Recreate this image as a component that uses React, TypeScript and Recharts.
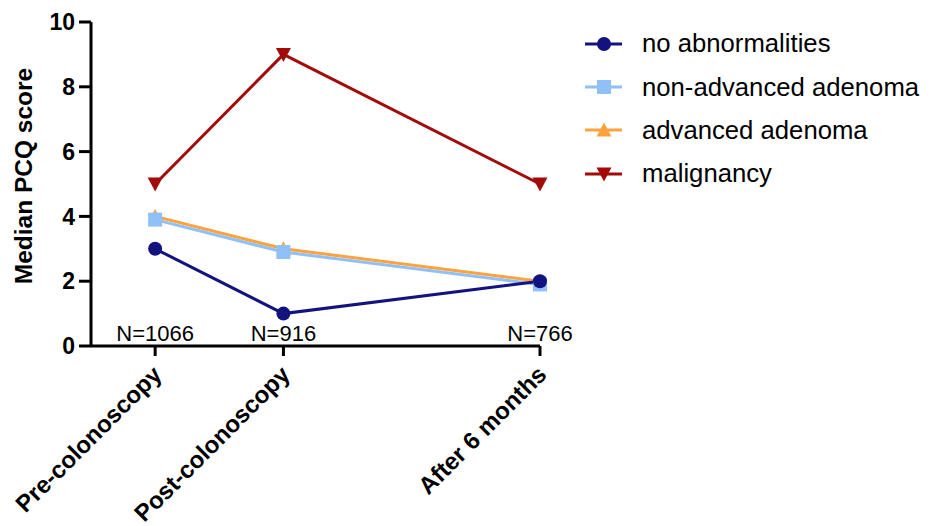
import { LineChart, Line, XAxis, YAxis, ReferenceDot } from 'recharts';

const timePoints = [0, 1, 3];
const timeLabels = ['Pre-colonoscopy', 'Post-colonoscopy', 'After 6 months'];
const nLabels = ['N=1066', 'N=916', 'N=766'];

const noAbnormalities = [3, 1, 2];
const nonAdvancedAdenoma = [3.9, 2.9, 1.9];
const advancedAdenoma = [4, 3, 2];
const malignancy = [5, 9, 5];

const yTicks = [0, 2, 4, 6, 8, 10];

const data = timePoints.map((t, i) => ({
  t,
  none: noAbnormalities[i],
  nonAdv: nonAdvancedAdenoma[i],
  adv: advancedAdenoma[i],
  malig: malignancy[i],
}));

const FONT = '"Liberation Sans", Arial, Helvetica, sans-serif';

const series = [
  { key: 'none', name: 'no abnormalities', color: '#12137f', shape: 'circle' },
  { key: 'nonAdv', name: 'non-advanced adenoma', color: '#90c0f8', shape: 'square' },
  { key: 'adv', name: 'advanced adenoma', color: '#fca23e', shape: 'up' },
  { key: 'malig', name: 'malignancy', color: '#a30b0b', shape: 'down' },
];

const Marker = ({ shape, color, cx, cy }: any) => {
  if (cx == null || cy == null) return null;
  if (shape === 'circle') return <circle cx={cx} cy={cy} r={7} fill={color} />;
  if (shape === 'square') return <rect x={cx - 7} y={cy - 7} width={14} height={14} fill={color} />;
  if (shape === 'up')
    return <polygon points={`${cx},${cy - 7.5} ${cx - 7.5},${cy + 6.5} ${cx + 7.5},${cy + 6.5}`} fill={color} />;
  return <polygon points={`${cx},${cy + 7.5} ${cx - 7.5},${cy - 6.5} ${cx + 7.5},${cy - 6.5}`} fill={color} />;
};

const XTick = ({ x, y, payload }: any) => {
  const i = timePoints.indexOf(payload.value);
  const ax = x + 8;
  const ay = y + 18;
  return (
    <text
      x={ax}
      y={ay}
      transform={`rotate(-45 ${ax} ${ay})`}
      textAnchor="end"
      fontFamily={FONT}
      fontWeight="bold"
      fontSize={24}
      fill="#000"
    >
      {timeLabels[i]}
    </text>
  );
};

const YLabel = ({ viewBox }: any) => {
  const cx = viewBox.x + viewBox.width - 68;
  const cy = viewBox.y + viewBox.height / 2 - 8;
  return (
    <text
      x={cx}
      y={cy}
      transform={`rotate(-90 ${cx} ${cy})`}
      textAnchor="middle"
      dominantBaseline="central"
      fontFamily={FONT}
      fontWeight="bold"
      fontSize={24.5}
      fill="#000"
    >
      Median PCQ score
    </text>
  );
};

const ChartLegend = () => (
  <div style={{ position: 'absolute', left: 585, top: 22, fontFamily: FONT, fontSize: 25.7, color: '#000' }}>
    {series.map((s) => (
      <div key={s.key} style={{ display: 'flex', alignItems: 'center', height: 43.4 }}>
        <svg width={40} height={20} style={{ marginRight: 17 }}>
          <line x1={0} y1={10} x2={37} y2={10} stroke={s.color} strokeWidth={3} />
          <Marker shape={s.shape} color={s.color} cx={19} cy={10} />
        </svg>
        <span>{s.name}</span>
      </div>
    ))}
  </div>
);

const drawOrder = ['adv', 'nonAdv', 'none', 'malig'];

export default function App() {
  return (
    <div style={{ position: 'absolute', left: 0, top: 0, width: 941, height: 526, background: '#fff' }}>
      <LineChart width={941} height={526} data={data} margin={{ top: 22, right: 401, left: 33, bottom: 150 }}>
        <XAxis
          dataKey="t"
          type="number"
          domain={[-0.5, 3]}
          ticks={timePoints}
          tick={<XTick />}
          tickSize={10}
          height={30}
          interval={0}
          axisLine={{ stroke: '#000', strokeWidth: 3 }}
          tickLine={{ stroke: '#000', strokeWidth: 3 }}
        />
        <YAxis
          type="number"
          domain={[0, 10]}
          ticks={yTicks}
          width={58}
          tickSize={12}
          tickMargin={4}
          axisLine={{ stroke: '#000', strokeWidth: 3 }}
          tickLine={{ stroke: '#000', strokeWidth: 3 }}
          tick={{ fill: '#000', fontSize: 23, fontWeight: 'bold', fontFamily: FONT }}
          label={<YLabel />}
        />
        {drawOrder.map((k) => {
          const s = series.find((x) => x.key === k)!;
          return (
            <Line
              key={s.key}
              dataKey={s.key}
              name={s.name}
              stroke={s.color}
              strokeWidth={3}
              dot={(p: any) => <Marker key={`${s.key}-${p.index}`} shape={s.shape} color={s.color} cx={p.cx} cy={p.cy} />}
              activeDot={false}
              isAnimationActive={false}
            />
          );
        })}
        {timePoints.map((t, i) => (
          <ReferenceDot
            key={t}
            x={t}
            y={0}
            r={0}
            fill="none"
            stroke="none"
            label={{ value: nLabels[i], position: 'top', offset: 5, fill: '#000', fontSize: 22, fontFamily: FONT }}
          />
        ))}
      </LineChart>
      <ChartLegend />
    </div>
  );
}
